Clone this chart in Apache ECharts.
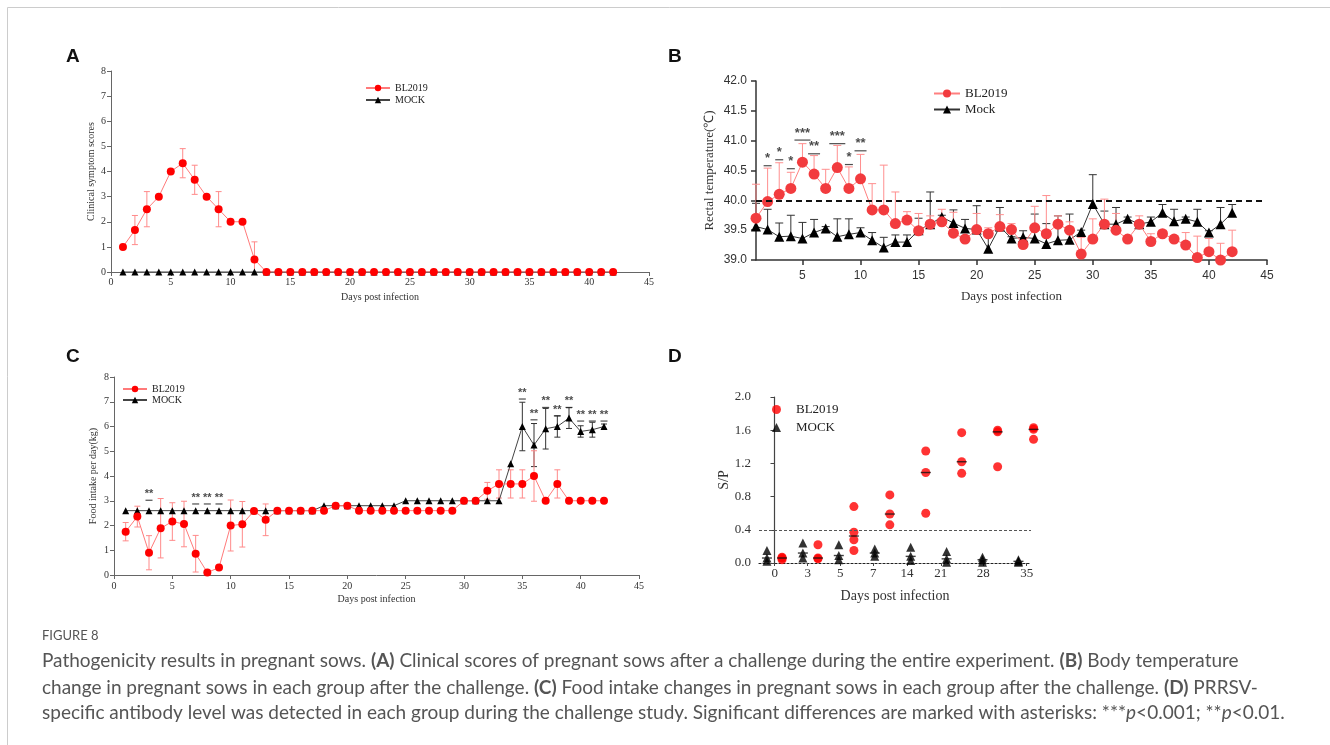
<!DOCTYPE html>
<html><head><meta charset="utf-8">
<script src="https://cdn.jsdelivr.net/npm/echarts@6/dist/echarts.min.js"></script>
<style>html,body{margin:0;padding:0;background:#fff}#c{width:1330px;height:745px}</style>
</head><body><div id="c"></div>
<script>
// ---------------- DATA ----------------
const days = [1,2,3,4,5,6,7,8,9,10,11,12,13,14,15,16,17,18,19,20,21,22,23,24,25,26,27,28,29,30,31,32,33,34,35,36,37,38,39,40,41,42];

// Panel A: clinical symptom scores
const aBL    = [1,1.67,2.5,3,4,4.33,3.67,3,2.5,2,2,0.5,0,0,0,0,0,0,0,0,0,0,0,0,0,0,0,0,0,0,0,0,0,0,0,0,0,0,0,0,0,0];
const aBLerr = [0,0.58,0.7,0,0,0.58,0.58,0,0.7,0,0,0.7,0,0,0,0,0,0,0,0,0,0,0,0,0,0,0,0,0,0,0,0,0,0,0,0,0,0,0,0,0,0];
const aMock  = [0,0,0,0,0,0,0,0,0,0,0,0,0,0,0,0,0,0,0,0,0,0,0,0,0,0,0,0,0,0,0,0,0,0,0,0,0,0,0,0,0,0];

// Panel B: rectal temperature
const bBL = [39.70,39.98,40.10,40.20,40.64,40.44,40.20,40.55,40.20,40.36,39.84,39.84,39.61,39.67,39.49,39.60,39.64,39.45,39.35,39.51,39.44,39.56,39.51,39.26,39.54,39.44,39.60,39.50,39.10,39.35,39.60,39.50,39.35,39.60,39.31,39.44,39.35,39.25,39.04,39.14,39.00,39.14];
const bBLerr = [0.57,0.56,0.53,0.27,0.31,0.31,0.32,0.37,0.36,0.41,0.44,0.75,0.53,0.14,0.29,0.14,0.21,0.35,0.05,0.27,0.1,0.2,0.1,0.1,0.36,0.64,0.14,0.14,0.28,0.34,0.42,0.28,0.05,0.14,0.13,0.05,0.05,0.21,0.36,0.22,0.28,0.36];
const bMock = [39.56,39.51,39.39,39.40,39.36,39.46,39.53,39.39,39.43,39.46,39.33,39.21,39.30,39.30,39.50,39.60,39.72,39.62,39.53,39.51,39.19,39.56,39.36,39.38,39.36,39.27,39.33,39.34,39.47,39.94,39.60,39.60,39.69,39.60,39.64,39.79,39.65,39.69,39.64,39.46,39.60,39.79];
const bMockErr = [0.39,0.34,0.23,0.35,0.27,0.22,0.03,0.30,0.26,0.08,0.13,0.17,0.12,0.12,0.2,0.54,0.03,0.22,0.15,0.4,0.28,0.32,0.03,0.11,0.41,0.34,0.41,0.43,0.03,0.49,0.22,0.28,0.03,0.03,0.08,0.14,0.2,0.03,0.21,0.03,0.28,0.14];
const bThreshold = 40.0;
const sigBDays  = [2,3,4,5,6,8,9,10];
const sigBLevel = [40.58,40.68,40.53,41.01,40.78,40.95,40.60,40.83];
const sigBStars = ['*','*','*','***','**','***','*','**'];

// Panel C: food intake
const cBL = [1.75,2.36,0.9,1.89,2.16,2.06,0.86,0.1,0.3,2.0,2.05,2.59,2.23,2.6,2.6,2.6,2.6,2.6,2.8,2.8,2.6,2.6,2.6,2.6,2.6,2.6,2.6,2.6,2.6,3.0,3.0,3.4,3.68,3.68,3.68,4.0,3.0,3.68,3.0,3.0,3.0,3.0];
const cBLerr = [0.37,0.42,0.69,1.2,0.76,0.92,0.74,0,0,1.03,0.92,0,0.64,0,0,0,0,0,0,0,0,0,0,0,0,0,0,0,0,0,0,0.34,0.57,0.57,0.57,1.02,0,0.57,0,0,0,0];
const cMock = [2.6,2.6,2.6,2.6,2.6,2.6,2.6,2.6,2.6,2.6,2.6,2.6,2.6,2.6,2.6,2.6,2.6,2.8,2.8,2.8,2.8,2.8,2.8,2.8,3.0,3.0,3.0,3.0,3.0,3.0,3.0,3.0,3.0,4.49,6.0,5.25,5.91,6.0,6.34,5.8,5.87,6.0];
const cMockErr = [0,0,0,0,0,0,0,0,0,0,0,0,0,0,0,0,0,0,0,0,0,0,0,0,0,0,0,0,0,0,0,0,0,0,0.98,0.87,0.82,0.43,0.42,0.23,0.3,0.1];
const sigCDays  = [3,7,8,9,35,36,37,38,39,40,41,42];
const sigCLevel = [3.02,2.87,2.87,2.87,7.11,6.27,6.77,6.43,6.77,6.22,6.22,6.22];
const sigCStars = ['**','**','**','**','**','**','**','**','**','**','**','**'];

// Panel D: S/P antibody
const dDays = ['0','3','5','7','14','21','28','35'];
const dBL = [[0.06,0.07,0.04],[0.22,0.05,0.06],[0.68,0.37,0.28,0.15],[0.82,0.59,0.46],[1.35,1.09,0.60],[1.57,1.22,1.08],[1.60,1.58,1.16],[1.63,1.61,1.49]];
const dMock = [[0.15,0.06,0.02],[0.24,0.12,0.06],[0.22,0.09,0.04],[0.17,0.12,0.08],[0.19,0.08,0.03],[0.14,0.05,0.01],[0.07,0.04,0.01],[0.04,0.02,0.01]];
const dCutoff = 0.4;

// ---------------- HELPERS ----------------
const SERIF = "'Liberation Serif','Times New Roman',serif";
const SANS = "'Liberation Sans',Arial,sans-serif";

function errBars(xi, days, vals, errs, both, color, capHalf, axisMin, z) {
  const data = [];
  days.forEach((d, i) => {
    const e = errs[i];
    if (!e) return;
    data.push([d, vals[i], both ? vals[i] - e : vals[i], vals[i] + e]);
  });
  return {
    type: 'custom', xAxisIndex: xi, yAxisIndex: xi, z: z, silent: true, data: data,
    encode: { x: 0, y: 1 },
    renderItem(params, api) {
      const x = api.value(0), lo = api.value(2), hi = api.value(3);
      const pH = api.coord([x, hi]);
      const pL = api.coord([x, Math.max(lo, axisMin)]);
      const st = { stroke: color, lineWidth: 1 };
      const ch = [
        { type: 'line', shape: { x1: pH[0], y1: pH[1], x2: pL[0], y2: pL[1] }, style: st },
        { type: 'line', shape: { x1: pH[0] - capHalf, y1: pH[1], x2: pH[0] + capHalf, y2: pH[1] }, style: st }
      ];
      if (both && lo >= axisMin) ch.push({ type: 'line', shape: { x1: pL[0] - capHalf, y1: pL[1], x2: pL[0] + capHalf, y2: pL[1] }, style: st });
      return { type: 'group', children: ch };
    }
  };
}

function sigSeries(xi, dList, levels, stars, fontSize, widths) {
  return {
    type: 'scatter', xAxisIndex: xi, yAxisIndex: xi, silent: true, z: 10,
    symbol: 'rect',
    data: dList.map((d, i) => ({ value: [d, levels[i]], name: stars[i], symbolSize: [widths[stars[i].length], 1.2] })),
    itemStyle: { color: '#222' },
    label: { show: true, position: 'top', distance: 0, formatter: '{b}', fontFamily: SANS, fontWeight: 'bold', fontSize: fontSize, color: '#1a1a1a' }
  };
}

function median(arr) {
  const s = arr.slice().sort((a, b) => a - b);
  const n = s.length;
  return n % 2 ? s[(n - 1) / 2] : (s[n / 2 - 1] + s[n / 2]) / 2;
}

const pair = (xs, ys) => xs.map((x, i) => [x, ys[i]]);
const legFmt = n => n.split('|')[1];

// D layout: group index positions
const dOff = 0.21;
const dBLpts = [], dMockPts = [], dMedBL = [], dMedMock = [];
dBL.forEach((g, i) => { g.forEach(v => dBLpts.push([i + dOff, v])); dMedBL.push([i + dOff, median(g)]); });
dMock.forEach((g, i) => { g.forEach(v => dMockPts.push([i - dOff, v])); dMedMock.push([i - dOff, median(g)]); });
const dLabelPos = [0.006, 0.924, 1.83, 2.75, 3.69, 4.63, 5.81, 7.02];

// ---------------- CHART ----------------
const chart = echarts.init(document.getElementById('c'), null, { renderer: 'canvas' });

const axSerif = (size) => ({ fontFamily: SERIF, fontSize: size, color: '#333' });
const CAP = "19px Lato";

const option = {
  animation: false,
  backgroundColor: '#fff',
  grid: [
    { left: 111, top: 71, width: 538, height: 201 },
    { left: 756, top: 81, width: 511, height: 179 },
    { left: 114, top: 377, width: 525, height: 198 },
    { left: 759, top: 397, width: 272, height: 166 }
  ],
  xAxis: [
    { gridIndex: 0, type: 'value', min: 0, max: 45, interval: 5, splitLine: { show: false },
      axisLine: { lineStyle: { color: '#666', width: 1 } }, axisTick: { length: 4, lineStyle: { color: '#666' } },
      axisLabel: Object.assign({ margin: 5 }, axSerif(10)),
      name: 'Days post infection', nameLocation: 'middle', nameGap: 20, nameTextStyle: axSerif(10) },
    { gridIndex: 1, type: 'value', min: 1, max: 45, splitLine: { show: false },
      axisLine: { lineStyle: { color: '#333', width: 1.5 } },
      axisTick: { length: 5, lineStyle: { color: '#333', width: 1.5 }, customValues: [5,10,15,20,25,30,35,40,45] },
      axisLabel: { margin: 10, fontFamily: SANS, fontSize: 12, color: '#333', customValues: [5,10,15,20,25,30,35,40,45] },
      name: 'Days post infection', nameLocation: 'middle', nameGap: 30, nameTextStyle: axSerif(13) },
    { gridIndex: 2, type: 'value', min: 0, max: 45, interval: 5, splitLine: { show: false },
      axisLine: { lineStyle: { color: '#666', width: 1 } }, axisTick: { length: 4, lineStyle: { color: '#666' } },
      axisLabel: Object.assign({ margin: 6 }, axSerif(10)),
      name: 'Days post infection', nameLocation: 'middle', nameGap: 19, nameTextStyle: axSerif(10) },
    { gridIndex: 3, type: 'value', min: -0.431, max: 7.139, splitLine: { show: false },
      axisLine: { lineStyle: { color: '#222', width: 1.2, type: [2, 2] } },
      axisTick: { length: 3, lineStyle: { color: '#444' }, customValues: dLabelPos },
      axisLabel: { margin: 4, fontFamily: SERIF, fontSize: 13, color: '#333', customValues: dLabelPos,
        formatter: v => { const i = dLabelPos.indexOf(v); return i >= 0 ? dDays[i] : ''; } },
      name: 'Days post infection', nameLocation: 'middle', nameGap: 26, nameTextStyle: axSerif(14) }
  ],
  yAxis: [
    { gridIndex: 0, type: 'value', min: 0, max: 8, interval: 1, splitLine: { show: false },
      axisLine: { show: true, lineStyle: { color: '#666' } }, axisTick: { show: true, length: 4, lineStyle: { color: '#666' } },
      axisLabel: Object.assign({ margin: 5 }, axSerif(10)),
      name: 'Clinical symptom scores', nameLocation: 'middle', nameGap: 15, nameTextStyle: axSerif(10) },
    { gridIndex: 1, type: 'value', min: 39, max: 42, interval: 0.5, splitLine: { show: false },
      axisLine: { show: true, lineStyle: { color: '#333', width: 1.5 } }, axisTick: { show: true, length: 5, lineStyle: { color: '#333', width: 1.5 } },
      axisLabel: { margin: 9, fontFamily: SANS, fontSize: 12, color: '#333', formatter: v => v.toFixed(1) },
      name: 'Rectal temperature(\u2103)', nameLocation: 'middle', nameGap: 40, nameTextStyle: axSerif(13) },
    { gridIndex: 2, type: 'value', min: 0, max: 8, interval: 1, splitLine: { show: false },
      axisLine: { show: true, lineStyle: { color: '#666' } }, axisTick: { show: true, length: 4, lineStyle: { color: '#666' } },
      axisLabel: Object.assign({ margin: 5 }, axSerif(10)),
      name: 'Food intake per day(kg)', nameLocation: 'middle', nameGap: 16, nameTextStyle: axSerif(10) },
    { gridIndex: 3, type: 'value', min: 0, max: 2, interval: 0.4, splitLine: { show: false },
      axisLine: { show: true, lineStyle: { color: '#444', width: 1.2 } }, axisTick: { show: true, length: 4, lineStyle: { color: '#444' } },
      axisLabel: { margin: 8, fontFamily: SERIF, fontSize: 13, color: '#333', formatter: v => v.toFixed(1) },
      name: 'S/P', nameLocation: 'middle', nameGap: 22, nameTextStyle: axSerif(14) }
  ],
  legend: [
    { left: 360, top: 78, orient: 'vertical', itemGap: 2, itemWidth: 24, itemHeight: 8, selectedMode: false,
      data: ['A|BL2019', 'A|MOCK'], formatter: legFmt, textStyle: { fontFamily: SERIF, fontSize: 10, color: '#222' } },
    { left: 928, top: 82, orient: 'vertical', itemGap: 3, itemWidth: 26, itemHeight: 10, selectedMode: false,
      data: ['B|BL2019', 'B|Mock'], formatter: legFmt, textStyle: { fontFamily: SERIF, fontSize: 13, color: '#222' } },
    { left: 117, top: 379, orient: 'vertical', itemGap: 1, itemWidth: 24, itemHeight: 8, selectedMode: false,
      data: ['C|BL2019', 'C|MOCK'], formatter: legFmt, textStyle: { fontFamily: SERIF, fontSize: 10, color: '#222' } },
    { left: 767, top: 398, orient: 'vertical', itemGap: 5, itemWidth: 9, itemHeight: 9, selectedMode: false,
      data: [{ name: 'D|BL2019', icon: 'circle' }, { name: 'D|MOCK', icon: 'triangle' }], formatter: legFmt,
      textStyle: { fontFamily: SERIF, fontSize: 13, color: '#222', padding: [0, 0, 0, 10] } }
  ],
  series: [
    // ---- A ----
    errBars(0, days, aBL, aBLerr, true, '#ff8a8a', 3, 0, 2),
    { name: 'A|MOCK', type: 'line', xAxisIndex: 0, yAxisIndex: 0, data: pair(days, aMock), z: 3,
      symbol: 'triangle', symbolSize: 7, itemStyle: { color: '#000' }, lineStyle: { color: '#444', width: 1 } },
    { name: 'A|BL2019', type: 'line', xAxisIndex: 0, yAxisIndex: 0, data: pair(days, aBL), z: 4,
      symbol: 'circle', symbolSize: 8, itemStyle: { color: '#ff0000' }, lineStyle: { color: '#ff7a7a', width: 1 } },
    // ---- B ----
    errBars(1, days, bMock, bMockErr, false, '#333', 4, 39, 2),
    errBars(1, days, bBL, bBLerr, false, '#ff8f8f', 4, 39, 2),
    { name: 'B|Mock', type: 'line', xAxisIndex: 1, yAxisIndex: 1, data: pair(days, bMock), z: 3,
      symbol: 'triangle', symbolSize: 10, itemStyle: { color: '#000' }, lineStyle: { color: '#333', width: 1 } },
    { name: 'B|BL2019', type: 'line', xAxisIndex: 1, yAxisIndex: 1, data: pair(days, bBL), z: 4,
      symbol: 'circle', symbolSize: 11, itemStyle: { color: '#f23b3e' }, lineStyle: { color: '#ff7f7f', width: 1 },
      markLine: { silent: true, symbol: 'none', label: { show: false },
        lineStyle: { color: '#111', width: 2, type: [6, 4] },
        data: [[{ coord: [1, bThreshold] }, { coord: [44.6, bThreshold] }]] } },
    sigSeries(1, sigBDays, sigBLevel, sigBStars, 13, { 1: 8, 2: 12, 3: 16 }),
    // ---- C ----
    errBars(2, days, cMock, cMockErr, true, '#333', 3, 0, 2),
    errBars(2, days, cBL, cBLerr, true, '#ff8a8a', 3, 0, 2),
    { name: 'C|MOCK', type: 'line', xAxisIndex: 2, yAxisIndex: 2, data: pair(days, cMock), z: 3,
      symbol: 'triangle', symbolSize: 7, itemStyle: { color: '#000' }, lineStyle: { color: '#444', width: 1 } },
    { name: 'C|BL2019', type: 'line', xAxisIndex: 2, yAxisIndex: 2, data: pair(days, cBL), z: 4,
      symbol: 'circle', symbolSize: 8, itemStyle: { color: '#ff0000' }, lineStyle: { color: '#ff7a7a', width: 1 } },
    sigSeries(2, sigCDays, sigCLevel, sigCStars, 11, { 1: 6, 2: 7, 3: 10 }),
    // ---- D ----
    { name: 'D|MOCK', type: 'scatter', xAxisIndex: 3, yAxisIndex: 3, data: dMockPts, z: 3, clip: false,
      symbol: 'triangle', symbolSize: 9, itemStyle: { color: '#000' } },
    { name: 'D|BL2019', type: 'scatter', xAxisIndex: 3, yAxisIndex: 3, data: dBLpts, z: 4, clip: false,
      symbol: 'circle', symbolSize: 9, itemStyle: { color: '#ff0000' },
      markLine: { silent: true, symbol: 'none', label: { show: false },
        lineStyle: { color: '#555', width: 1, type: [3, 2] }, data: [{ yAxis: dCutoff }] } },
    { type: 'scatter', xAxisIndex: 3, yAxisIndex: 3, data: dMedMock.concat(dMedBL), z: 5, silent: true, clip: false,
      symbol: 'rect', symbolSize: [10, 1.4], itemStyle: { color: '#111' } }
  ],
  graphic: [
    { type: 'rect', silent: true, shape: { x: 7.5, y: 7.5, width: 1400, height: 900 }, style: { fill: null, stroke: '#cccccc', lineWidth: 1 } },
    { type: 'text', x: 66, y: 47, style: { text: 'A', font: "bold 19px " + SANS, fill: '#111' } },
    { type: 'text', x: 668, y: 47, style: { text: 'B', font: "bold 19px " + SANS, fill: '#111' } },
    { type: 'text', x: 66, y: 347, style: { text: 'C', font: "bold 19px " + SANS, fill: '#111' } },
    { type: 'text', x: 668, y: 347, style: { text: 'D', font: "bold 19px " + SANS, fill: '#111' } },
    { type: 'text', x: 42, y: 629, style: { text: 'FIGURE 8', font: "13px Lato", fill: '#555' } },
    { type: 'text', x: 42, y: 651, style: {
        text: '{n|Pathogenicity results in pregnant sows. }{b|(A)}{n| Clinical scores of pregnant sows after a challenge during the entire experiment. }{b|(B)}{n| Body temperature}',
        rich: { n: { font: CAP, fill: '#555' }, b: { font: "bold " + CAP, fill: '#555' } } } },
    { type: 'text', x: 42, y: 678, style: {
        text: '{n|change in pregnant sows in each group after the challenge. }{b|(C)}{n| Food intake changes in pregnant sows in each group after the challenge. }{b|(D)}{n| PRRSV-}',
        rich: { n: { font: CAP, fill: '#555' }, b: { font: "bold " + CAP, fill: '#555' } } } },
    { type: 'text', x: 42, y: 703, style: {
        text: '{n|specific antibody level was detected in each group during the challenge study. Significant differences are marked with asterisks: ***}{i|p}{n|<0.001; **}{i|p}{n|<0.01.}',
        rich: { n: { font: CAP, fill: '#555' }, i: { font: "italic " + CAP, fill: '#555' } } } }
  ]
};
chart.setOption(option);
</script></body></html>
